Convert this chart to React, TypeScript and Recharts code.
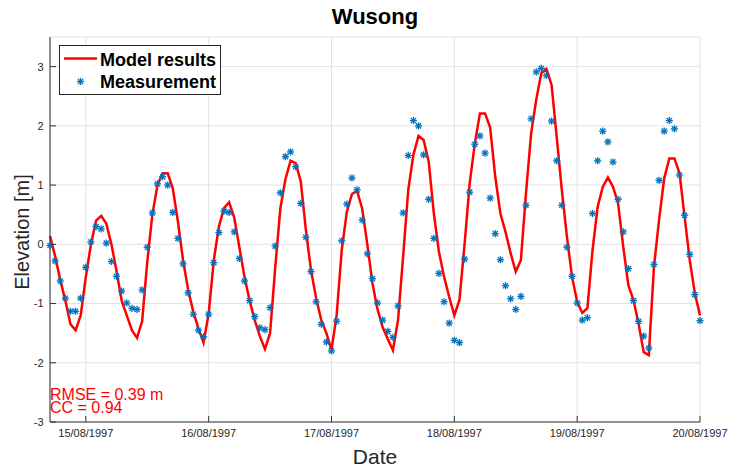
import {
  ComposedChart,
  Line,
  Scatter,
  XAxis,
  YAxis,
  CartesianGrid,
  Legend,
} from "recharts";

const FONT = '"Liberation Sans", Arial, Helvetica, sans-serif';
const RED = "#ff0000";
const BLUE = "#0072bd";
const AXIS = "#333333";

// hourly samples, first one at 14/08/1997 17:00 (hours counted from 14/08 00:00)
const START_HOUR = 17;

const modelResults = [
  0.14, -0.2, -0.6, -0.95, -1.35, -1.45, -1.2, -0.55, 0.0, 0.4,
  0.48, 0.35, 0.0, -0.45, -0.95, -1.2, -1.45, -1.58, -1.3, -0.3,
  0.5, 1.0, 1.2, 1.2, 0.94, 0.38, -0.27, -0.77, -1.14, -1.42,
  -1.66, -1.17, -0.27, 0.3, 0.61, 0.71, 0.45, -0.05, -0.55, -0.95,
  -1.28, -1.55, -1.77, -1.5, -0.4, 0.6, 1.1, 1.41, 1.37, 1.06,
  0.24, -0.44, -0.91, -1.28, -1.5, -1.78, -1.2, -0.1, 0.55, 0.85,
  0.9, 0.6, 0.0, -0.66, -1.1, -1.4, -1.6, -1.79, -1.28, -0.2,
  0.92, 1.51, 1.83, 1.76, 1.39, 0.52, -0.13, -0.55, -0.89, -1.2,
  -0.94, 0.0, 1.03, 1.7, 2.21, 2.21, 1.97, 1.14, 0.52, 0.21,
  -0.15, -0.46, -0.27, 0.86, 1.87, 2.44, 2.89, 2.96, 2.69, 1.82,
  0.92, 0.13, -0.55, -0.97, -1.16, -1.08, -0.1, 0.63, 0.97, 1.13,
  0.97, 0.69, -0.04, -0.69, -0.94, -1.34, -1.82, -1.87, -0.38, 0.41,
  1.11, 1.45, 1.45, 1.2, 0.46, -0.27, -0.83, -1.2,
];

const measurement = [
  -0.02, -0.28, -0.62, -0.91, -1.13, -1.13, -0.91, -0.39, 0.04, 0.3,
  0.26, 0.02, -0.29, -0.54, -0.79, -0.99, -1.08, -1.1, -0.77, -0.05,
  0.53, 1.02, 1.14, 1.0, 0.54, 0.1, -0.33, -0.82, -1.18, -1.45,
  -1.56, -1.18, -0.31, 0.2, 0.56, 0.54, 0.21, -0.24, -0.62, -0.95,
  -1.22, -1.41, -1.44, -1.07, -0.03, 0.87, 1.48, 1.56, 1.31, 0.69,
  0.12, -0.46, -0.97, -1.35, -1.65, -1.8, -1.3, 0.06, 0.68, 1.12,
  0.92, 0.41, -0.16, -0.58, -0.99, -1.28, -1.47, -1.57, -1.04, 0.53,
  1.5, 2.09, 2.0, 1.51, 0.76, 0.1, -0.49, -0.97, -1.33, -1.62,
  -1.66, -0.25, 0.88, 1.69, 1.83, 1.54, 0.78, 0.18, -0.26, -0.7,
  -0.92, -1.1, -0.88, 0.66, 2.12, 2.91, 2.97, 2.85, 2.08, 1.41,
  0.66, -0.05, -0.54, -0.99, -1.28, -1.24, 0.52, 1.41, 1.91, 1.73,
  1.39, 0.76, 0.21, -0.41, -0.95, -1.3, -1.55, -1.75, -0.34, 1.08,
  1.91, 2.09, 1.95, 1.17, 0.49, -0.17, -0.85, -1.29,
];

const dayTicks = [24, 48, 72, 96, 120, 144];
const dayLabels = [
  "15/08/1997",
  "16/08/1997",
  "17/08/1997",
  "18/08/1997",
  "19/08/1997",
  "20/08/1997",
];
const elevTicks = [-3, -2, -1, 0, 1, 2, 3];

const data = modelResults.map((m, i) => ({
  h: START_HOUR + i,
  model: m,
  meas: measurement[i],
}));

function Asterisk(props: any) {
  const { cx, cy } = props;
  if (cx == null || cy == null) return null;
  const r = 3.6;
  const d = 2.6;
  return (
    <g stroke={BLUE} strokeWidth={1.3}>
      <line x1={cx - r} y1={cy} x2={cx + r} y2={cy} />
      <line x1={cx} y1={cy - r} x2={cx} y2={cy + r} />
      <line x1={cx - d} y1={cy - d} x2={cx + d} y2={cy + d} />
      <line x1={cx - d} y1={cy + d} x2={cx + d} y2={cy - d} />
    </g>
  );
}

function LegendBox() {
  return (
    <div
      style={{
        position: "relative",
        width: 160,
        height: 48,
        border: "1px solid #262626",
        background: "#fff",
        fontFamily: FONT,
        fontWeight: "bold",
        fontSize: 18,
        color: "#000",
      }}
    >
      <svg
        width={160}
        height={48}
        style={{ position: "absolute", left: 0, top: 0 }}
      >
        <line x1={4} x2={37} y1={12.5} y2={12.5} stroke={RED} strokeWidth={2.5} />
        <Asterisk cx={20.5} cy={35.5} />
      </svg>
      <div style={{ position: "absolute", left: 40, top: 5, lineHeight: "18px" }}>
        Model results
      </div>
      <div style={{ position: "absolute", left: 40, top: 27, lineHeight: "18px" }}>
        Measurement
      </div>
    </div>
  );
}

export default function App() {
  return (
    <div style={{ position: "absolute", left: 0, top: 0, width: 729, height: 468, background: "#fff" }}>
      <ComposedChart
        width={729}
        height={468}
        data={data}
        margin={{ top: 37, right: 29, bottom: 16, left: 20 }}
      >
        <CartesianGrid
          xAxisId="bottom"
          yAxisId="left"
          stroke="#e2e2e2"
          strokeWidth={1}
        />
        <XAxis
          xAxisId="bottom"
          dataKey="h"
          type="number"
          domain={[START_HOUR, 144]}
          ticks={dayTicks}
          interval={0}
          height={30}
          tickFormatter={(v: number) => dayLabels[dayTicks.indexOf(v)]}
          tick={{ fontSize: 11, fill: "#262626", fontFamily: FONT }}
          tickSize={-6}
          tickMargin={13.5}
          stroke={AXIS}
        />
        <XAxis
          xAxisId="top"
          orientation="top"
          dataKey="h"
          type="number"
          domain={[START_HOUR, 144]}
          ticks={dayTicks}
          interval={0}
          height={0}
          tick={false}
          tickSize={-6}
          stroke={AXIS}
        />
        <YAxis
          yAxisId="left"
          type="number"
          domain={[-3, 3.5]}
          ticks={elevTicks}
          interval={0}
          width={30}
          tick={{ fontSize: 11, fill: "#262626", fontFamily: FONT }}
          tickSize={-6}
          tickMargin={12.5}
          stroke={AXIS}
        />
        <YAxis
          yAxisId="right"
          orientation="right"
          type="number"
          domain={[-3, 3.5]}
          ticks={elevTicks}
          interval={0}
          width={0}
          tick={false}
          tickSize={-6}
          stroke={AXIS}
        />
        <Line
          xAxisId="bottom"
          yAxisId="left"
          type="linear"
          dataKey="model"
          name="Model results"
          stroke={RED}
          strokeWidth={2.5}
          dot={false}
          isAnimationActive={false}
        />
        <Scatter
          xAxisId="bottom"
          yAxisId="left"
          dataKey="meas"
          name="Measurement"
          fill={BLUE}
          shape={<Asterisk />}
          isAnimationActive={false}
        />
        <Legend
          layout="horizontal"
          verticalAlign="middle"
          align="center"
          content={() => <LegendBox />}
          wrapperStyle={{ left: 59, top: 45, width: 162, height: 50 }}
        />
      </ComposedChart>

      <div
        style={{
          position: "absolute",
          left: 50,
          width: 650,
          top: 6,
          textAlign: "center",
          fontFamily: FONT,
          fontWeight: "bold",
          fontSize: 22,
          lineHeight: "22px",
          color: "#000",
        }}
      >
        Wusong
      </div>
      <div
        style={{
          position: "absolute",
          left: 50,
          width: 650,
          top: 446,
          textAlign: "center",
          fontFamily: FONT,
          fontSize: 21,
          lineHeight: "21px",
          color: "#262626",
        }}
      >
        Date
      </div>
      <div
        style={{
          position: "absolute",
          left: 22,
          top: 232,
          transform: "translate(-50%, -50%) rotate(-90deg)",
          whiteSpace: "nowrap",
          fontFamily: FONT,
          fontSize: 20,
          lineHeight: "20px",
          color: "#262626",
        }}
      >
        Elevation [m]
      </div>
      <div
        style={{
          position: "absolute",
          left: 50,
          top: 387.5,
          fontFamily: FONT,
          fontSize: 16,
          lineHeight: "13.3px",
          color: RED,
          whiteSpace: "nowrap",
        }}
      >
        <div>RMSE = 0.39 m</div>
        <div>CC = 0.94</div>
      </div>
    </div>
  );
}
